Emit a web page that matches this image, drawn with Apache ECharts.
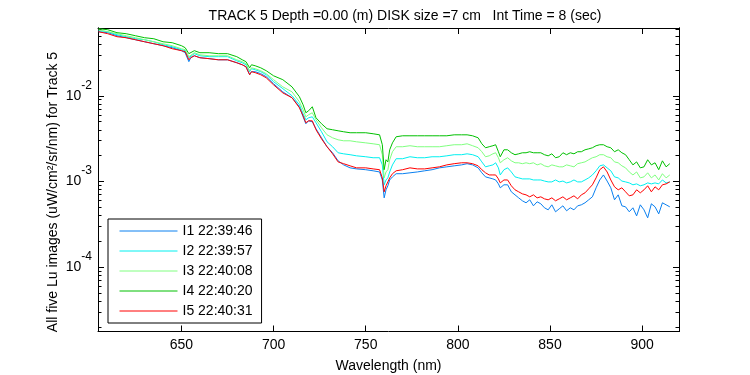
<!DOCTYPE html>
<html>
<head>
<meta charset="utf-8">
<script src="https://cdn.jsdelivr.net/npm/echarts@6/dist/echarts.min.js"></script>
<style>
  html, body { margin: 0; padding: 0; background: #fff; }
  #chart { width: 750px; height: 375px; }
</style>
</head>
<body>
<div id="chart"></div>
<script>
// wavelengths (nm) shared by all five scans
var wavelength = [
  605,610,615,620,625,630,635,640,645,650,
  652,654,655,657,660,665,670,675,680,683,
  685,687,688,690,693,696,700,705,710,714,
  716,717.5,719,721,723,726,729,732,735,738,
  741.5,745,750,754,757.5,759,760,761,762,763,
  764.5,766.5,770,774,778,782,786,790,794,798,
  802,805,808,811,813,815,817,819,820.5,822,
  823,825,827,829,831,833,835,837,839,841,
  843,845,847,849,851,853,855,857,859,861,
  863,865,867,869,871,873,875,877,879,881,
  883,885,887,889,891,893,895,897,899,901,
  903,905,907,909,911,913,915
]

// Lu, uW/cm^2/sr/nm
var luI1 = [
  0.0559,0.0545,0.0502,0.0476,0.0451,0.0427,0.0405,0.0384,0.0364,0.0336,
  0.0318,0.0250,0.0278,0.0293,0.0278,0.0271,0.0263,0.0263,0.0243,0.0230,
  0.0218,0.0176,0.0191,0.0191,0.0181,0.0167,0.0138,0.0111,0.00948,0.00744,
  0.00568,0.00471,0.00510,0.00497,0.00412,0.00323,0.00254,0.00216,0.00174,0.00156,
  0.00144,0.00140,0.00137,0.00133,0.00129,0.00104,0.000643,0.000798,0.000889,0.00104,
  0.00113,0.00123,0.00123,0.00126,0.00129,0.00133,0.00137,0.00144,0.00148,0.00152,
  0.00156,0.00161,0.00156,0.00144,0.00126,0.00113,0.00110,0.00107,0.00104,0.000936,
  0.000842,0.000913,0.000913,0.000756,0.000697,0.000643,0.000594,0.000563,0.000610,0.000519,
  0.000578,0.000548,0.000492,0.000466,0.000533,0.000442,0.000479,0.000519,0.000454,0.000492,
  0.000466,0.000519,0.000533,0.000563,0.000610,0.000661,0.000842,0.00104,0.00119,0.00101,
  0.000842,0.000610,0.000697,0.000519,0.000505,0.000442,0.000492,0.000396,0.000533,0.000466,
  0.000376,0.000548,0.000505,0.000418,0.000563,0.000533,0.000505
]
var luI2 = [
  0.0575,0.0559,0.0516,0.0489,0.0463,0.0451,0.0427,0.0394,0.0374,0.0345,
  0.0336,0.0278,0.0293,0.0310,0.0293,0.0286,0.0286,0.0286,0.0256,0.0243,
  0.0230,0.0191,0.0207,0.0201,0.0191,0.0176,0.0146,0.0121,0.0100,0.00785,
  0.00616,0.00524,0.00553,0.00568,0.00484,0.00380,0.00290,0.00254,0.00216,0.00210,
  0.00205,0.00199,0.00194,0.00189,0.00189,0.00156,0.000913,0.00104,0.00110,0.00129,
  0.00156,0.00184,0.00184,0.00194,0.00189,0.00189,0.00194,0.00194,0.00199,0.00205,
  0.00205,0.00210,0.00205,0.00194,0.00169,0.00148,0.00152,0.00156,0.00165,0.00144,
  0.00119,0.00137,0.00144,0.00129,0.00113,0.00110,0.00107,0.00107,0.00107,0.00104,
  0.00104,0.00104,0.00101,0.000987,0.000987,0.00104,0.000987,0.00101,0.000961,0.000987,
  0.00104,0.000987,0.000987,0.00104,0.00110,0.00119,0.00133,0.00152,0.00156,0.00144,
  0.00133,0.00113,0.00110,0.00101,0.000987,0.000961,0.000913,0.000936,0.000889,0.000913,
  0.000961,0.000936,0.000961,0.000936,0.00104,0.000961,0.000987
]
var luI3 = [
  0.0590,0.0559,0.0530,0.0502,0.0476,0.0451,0.0427,0.0405,0.0384,0.0354,
  0.0345,0.0286,0.0301,0.0318,0.0301,0.0293,0.0293,0.0293,0.0263,0.0250,
  0.0237,0.0196,0.0212,0.0207,0.0196,0.0181,0.0154,0.0127,0.0111,0.00851,
  0.00686,0.00568,0.00600,0.00633,0.00524,0.00423,0.00350,0.00323,0.00306,0.00298,
  0.00298,0.00290,0.00282,0.00275,0.00268,0.00205,0.00110,0.00129,0.00137,0.00179,
  0.00222,0.00254,0.00254,0.00261,0.00254,0.00254,0.00254,0.00254,0.00261,0.00268,
  0.00268,0.00275,0.00261,0.00247,0.00222,0.00194,0.00199,0.00210,0.00216,0.00189,
  0.00165,0.00179,0.00189,0.00174,0.00165,0.00165,0.00161,0.00165,0.00161,0.00165,
  0.00156,0.00161,0.00152,0.00148,0.00156,0.00152,0.00148,0.00148,0.00156,0.00152,
  0.00148,0.00161,0.00165,0.00169,0.00179,0.00189,0.00194,0.00205,0.00205,0.00194,
  0.00189,0.00169,0.00165,0.00152,0.00144,0.00129,0.00119,0.00129,0.00110,0.00113,
  0.00126,0.00110,0.00119,0.00104,0.00123,0.00110,0.00119
]
var luI4 = [
  0.0606,0.0590,0.0545,0.0530,0.0502,0.0476,0.0463,0.0427,0.0416,0.0384,
  0.0364,0.0310,0.0327,0.0336,0.0318,0.0318,0.0310,0.0310,0.0286,0.0263,
  0.0250,0.0212,0.0230,0.0224,0.0212,0.0196,0.0171,0.0154,0.0127,0.00974,
  0.00785,0.00633,0.00668,0.00744,0.00553,0.00471,0.00412,0.00401,0.00390,0.00380,
  0.00370,0.00370,0.00370,0.00360,0.00350,0.00268,0.00137,0.00179,0.00169,0.00234,
  0.00282,0.00332,0.00341,0.00341,0.00341,0.00341,0.00341,0.00341,0.00341,0.00350,
  0.00350,0.00350,0.00341,0.00323,0.00275,0.00247,0.00254,0.00261,0.00268,0.00222,
  0.00194,0.00234,0.00234,0.00216,0.00205,0.00210,0.00216,0.00216,0.00222,0.00216,
  0.00216,0.00216,0.00205,0.00199,0.00210,0.00189,0.00194,0.00216,0.00205,0.00216,
  0.00210,0.00222,0.00222,0.00234,0.00240,0.00247,0.00261,0.00268,0.00268,0.00254,
  0.00247,0.00222,0.00234,0.00216,0.00205,0.00179,0.00156,0.00169,0.00144,0.00148,
  0.00179,0.00156,0.00165,0.00137,0.00174,0.00148,0.00161
]
var luI5 = [
  0.0559,0.0530,0.0489,0.0476,0.0451,0.0427,0.0405,0.0384,0.0354,0.0336,
  0.0327,0.0263,0.0278,0.0293,0.0278,0.0271,0.0263,0.0263,0.0243,0.0230,
  0.0218,0.0176,0.0191,0.0186,0.0176,0.0162,0.0134,0.0108,0.00948,0.00724,
  0.00584,0.00484,0.00510,0.00510,0.00401,0.00314,0.00254,0.00210,0.00169,0.00161,
  0.00152,0.00144,0.00144,0.00140,0.00137,0.00110,0.000756,0.000889,0.000987,0.00110,
  0.00123,0.00133,0.00137,0.00144,0.00140,0.00140,0.00144,0.00148,0.00156,0.00161,
  0.00165,0.00165,0.00161,0.00152,0.00137,0.00126,0.00119,0.00119,0.00119,0.00107,
  0.000961,0.00104,0.00104,0.000889,0.000798,0.000756,0.000716,0.000697,0.000661,0.000697,
  0.000643,0.000661,0.000626,0.000610,0.000643,0.000594,0.000626,0.000661,0.000610,0.000643,
  0.000679,0.000626,0.000697,0.000736,0.000820,0.000913,0.00110,0.00137,0.00148,0.00129,
  0.00104,0.000865,0.000798,0.000842,0.000756,0.000679,0.000697,0.000798,0.000736,0.000798,
  0.000889,0.000756,0.000865,0.000798,0.000913,0.000936,0.000987
]

var names = ['I1 22:39:46','I2 22:39:57','I3 22:40:08','I4 22:40:20','I5 22:40:31']
var colors = ['#0a80f0','#00f0f0','#80ff80','#00c000','#ff0000']
var xTicks = [650,700,750,800,850,900]
var yMajor = [1e-4,1e-3,1e-2]

var xMin = 604.7, xMax = 920
var yMin = 1.77e-5, yMax = 0.0618

// log minor ticks 2..9 per decade
var yMinor = []
for (var e = -5; e <= -2; e++) {
  for (var k = 2; k <= 9; k++) {
    var v = k * Math.pow(10, e)
    if (v > yMin && v < yMax) yMinor.push(v)
  }
}

var font = 'Liberation Sans, Arial, sans-serif'
var fs = 14
var black = '#000'

var chart = echarts.init(document.getElementById('chart'))

var series = [luI1,luI2,luI3,luI4,luI5].map(function (arr, i) {
  return {
    name: names[i],
    type: 'line',
    showSymbol: false,
    symbol: 'none',
    animation: false,
    lineStyle: { width: 1, color: colors[i] },
    itemStyle: { color: colors[i] },
    data: wavelength.map(function (w, j) { return [w, arr[j]] })
  }
})

function xAxisDef(pos, showLabel) {
  return {
    type: 'value', position: pos, min: xMin, max: xMax,
    axisLine: { show: true, onZero: false, lineStyle: { color: black, width: 1 } },
    axisTick: { show: true, inside: true, length: 6, customValues: xTicks, lineStyle: { color: black } },
    axisLabel: { show: showLabel, customValues: xTicks, color: black, fontFamily: font, fontSize: fs, margin: 7 },
    splitLine: { show: false }
  }
}

function yAxisDef(pos, major) {
  return {
    type: 'log', logBase: 10, position: pos, min: yMin, max: yMax,
    axisLine: { show: true, onZero: false, lineStyle: { color: black, width: 1 } },
    axisTick: { show: true, inside: true, length: major ? 6 : 3.5, customValues: major ? yMajor : yMinor, lineStyle: { color: black } },
    axisLabel: {
      show: major && pos === 'left',
      customValues: yMajor,
      margin: 6,
      formatter: function (val) {
        return '{b|10}{e|' + Math.round(Math.log10(val)) + '}'
      },
      rich: {
        b: { fontFamily: font, fontSize: fs, color: black },
        e: { fontFamily: font, fontSize: 12, color: black, padding: [0, 0, 21, 0] }
      }
    },
    splitLine: { show: false }
  }
}

var xBottom = xAxisDef('bottom', true)
xBottom.name = 'Wavelength (nm)'
xBottom.nameLocation = 'middle'
xBottom.nameGap = 28
xBottom.nameTextStyle = { fontFamily: font, fontSize: fs, color: black }

var options = {
  backgroundColor: '#fff',
  animation: false,
  title: {
    text: 'TRACK 5 Depth =0.00 (m) DISK size =7 cm   Int Time = 8 (sec)',
    left: 400, top: 4, textAlign: 'center',
    textStyle: { fontFamily: font, fontSize: fs, fontWeight: 'normal', color: black }
  },
  grid: { left: 98, right: 71, top: 28, bottom: 43.5, containLabel: false, outerBoundsMode: 'none' },
  legend: {
    data: names.map(function (n, i) {
      return { name: n, lineStyle: { color: colors[i], width: 1 } }
    }),
    orient: 'vertical',
    left: 108, top: 219,
    padding: [5, 9, 5, 11],
    itemWidth: 58, itemHeight: 13, itemGap: 6,
    itemStyle: { opacity: 0 },
    backgroundColor: '#fff',
    borderColor: black, borderWidth: 1,
    selectedMode: false,
    textStyle: { fontFamily: font, fontSize: fs, lineHeight: 14, color: black }
  },
  graphic: [{
    type: 'text',
    x: 53, y: 192,
    rotation: Math.PI / 2,
    style: {
      text: 'All five Lu images (uW/cm\u00b2/sr/nm) for Track 5',
      fontFamily: font, fontSize: fs, fill: black,
      align: 'center', verticalAlign: 'middle'
    }
  }],
  xAxis: [xBottom, xAxisDef('top', false)],
  yAxis: [yAxisDef('left', true), yAxisDef('left', false), yAxisDef('right', true), yAxisDef('right', false)],
  series: series
}

chart.setOption(options)
</script>
</body>
</html>
